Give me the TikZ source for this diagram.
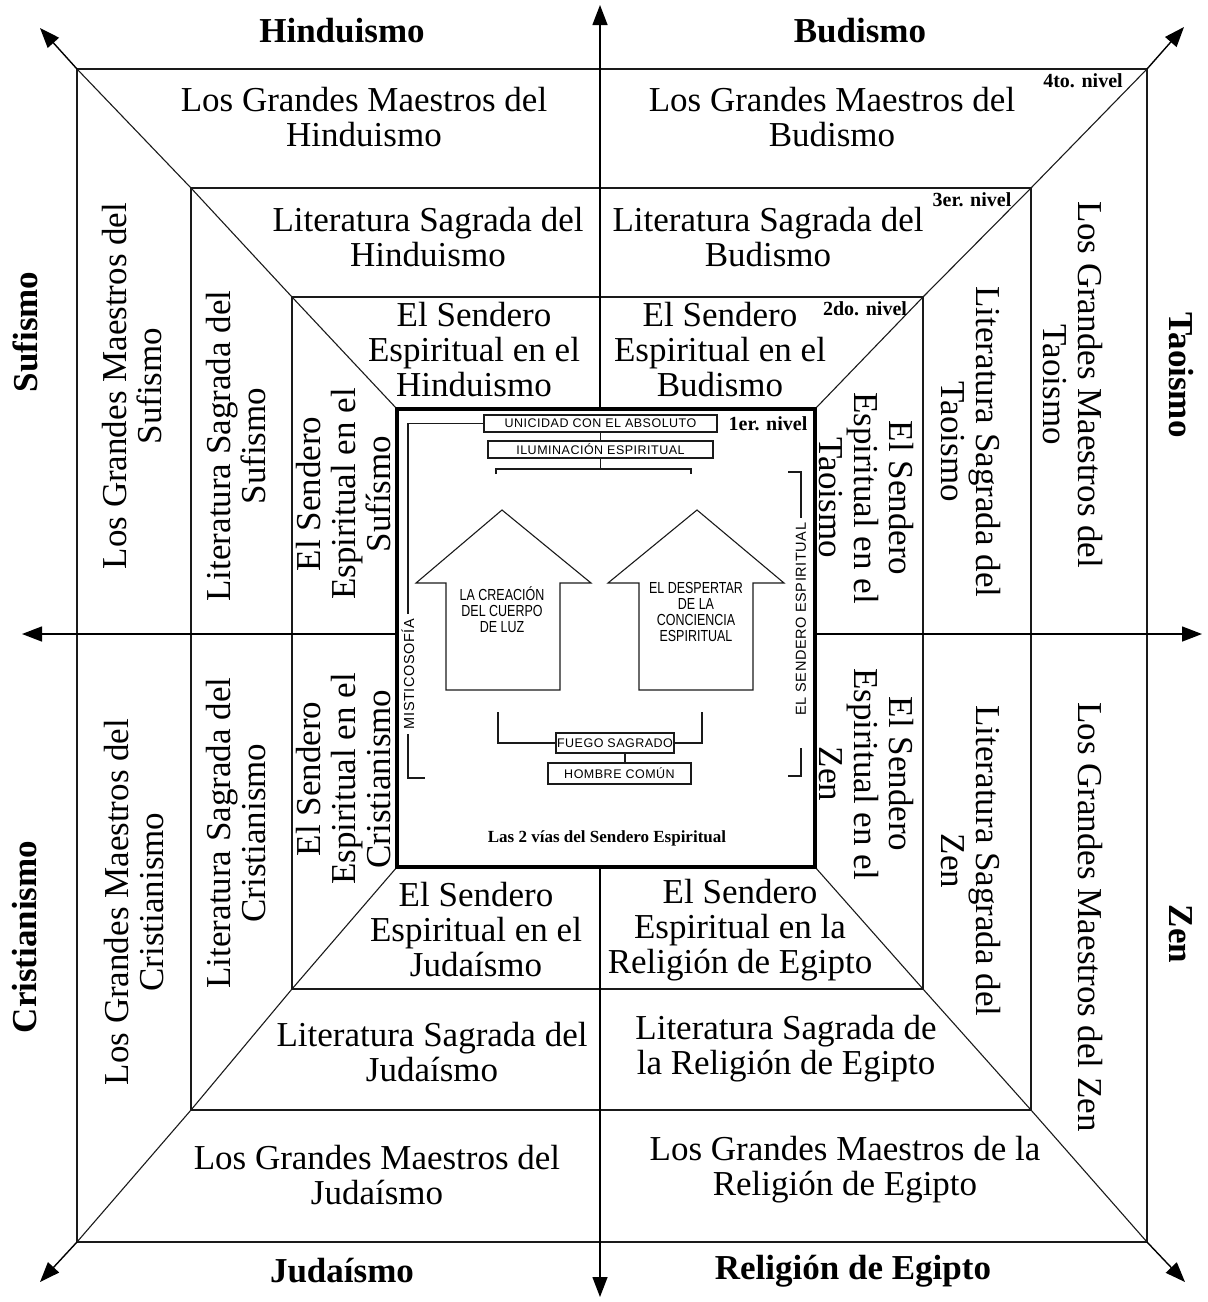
\documentclass[tikz,border=0pt]{standalone}
\usepackage{fontspec}
\setmainfont{Liberation Serif}
\newfontfamily\boxfont[LetterSpace=4]{Liberation Sans}
\newfontfamily\narrowfont[FakeStretch=0.78]{Liberation Sans}
\usetikzlibrary{arrows.meta,calc}
\definecolor{ink}{HTML}{1A1A1A}
\tikzset{
  levelBox/.style={draw=ink, line width=1.2pt, inner sep=0pt, outer sep=0pt},
  coreBox/.style={draw=black, line width=4pt, inner sep=0pt, outer sep=0pt},
  diag/.style={draw=ink, line width=1.1pt},
  axis/.style={draw=black, line width=1.4pt, -{Triangle[length=20pt,width=15pt]}},
  relText/.style={font=\fontsize{35}{35}\selectfont, align=center, inner sep=0pt},
  relUp/.style={relText, rotate=90},
  relDown/.style={relText, rotate=-90},
  faith/.style={font=\fontsize{35}{36}\selectfont\bfseries, inner sep=0pt},
  nivel/.style={font=\fontsize{20}{20}\selectfont\bfseries, inner sep=0pt},
  stageBox/.style={draw=ink, line width=1.1pt, font=\boxfont\fontsize{12.5}{14}\selectfont, inner sep=1pt},
  sideLab/.style={font=\boxfont\fontsize{14.5}{14}\selectfont, rotate=90, inner sep=5pt},
  wayText/.style={font=\narrowfont\fontsize{16}{16}\selectfont, align=center, inner sep=0pt},
  wayArrow/.style={draw=ink, line width=1.1pt, line join=miter},
  link/.style={draw=ink, line width=1.1pt},
  title/.style={font=\fontsize{17}{17}\selectfont\bfseries, inner sep=0pt}
}

\begin{document}
\begin{tikzpicture}[x=1pt,y=-1pt]
  \useasboundingbox (0,0) rectangle (1208,1302);

  \node[levelBox, minimum width=1070pt, minimum height=1173pt] (L4) at (612,655.5) {};
  \node[levelBox, minimum width=840pt, minimum height=922pt] (L3) at (611,649) {};
  \node[levelBox, minimum width=631pt, minimum height=692pt] (L2) at (607.5,643) {};
  \node[coreBox, minimum width=418pt, minimum height=458pt] (L1) at (606,638) {};

  \foreach \c in {north west,north east,south west,south east}
    \draw[diag] (L4.\c) -- (L3.\c) -- (L2.\c) -- (L1.\c);

  \coordinate (aN) at (600,5);
  \coordinate (aS) at (600,1297);
  \coordinate (aW) at (22,634);
  \coordinate (aE) at (1202,634);
  \coordinate (tNW) at (40,28);
  \coordinate (tNE) at (1184,27);
  \coordinate (tSW) at (40,1282);
  \coordinate (tSE) at (1185,1282);

  \draw[axis] (aN |- L1.north) -- (aN);
  \draw[axis] (aS |- L1.south) -- (aS);
  \draw[axis] (L1.west |- aW) -- (aW);
  \draw[axis] (L1.east |- aE) -- (aE);
  \draw[axis] (L4.north west) -- (tNW);
  \draw[axis] (L4.north east) -- (tNE);
  \draw[axis] (L4.south west) -- (tSW);
  \draw[axis] (L4.south east) -- (tSE);
  \node[coreBox, minimum width=418pt, minimum height=458pt] at (L1) {};

  \node[faith] (hin) at (342,31) {Hinduismo};
  \node[faith] (bud) at (860,31) {Budismo};
  \node[faith] (jud) at (342,1271) {Judaísmo};
  \node[faith] (egi) at (853,1271) {Religión de Egipto};
  \node[faith, rotate=90] (suf) at (25,332) {Sufismo};
  \node[faith, rotate=90] (cri) at (25,937) {Cristianismo};
  \node[faith, rotate=-90] (tao) at (1181,375) {Taoismo};
  \node[faith, rotate=-90] (zen) at (1181,934) {Zen};

  \node[nivel] (n4) at (1083,81) {4to. nivel};
  \node[nivel] (n3) at (972,200) {3er. nivel};
  \node[nivel] (n2) at (865,309) {2do. nivel};
  \node[nivel] (n1) at (768,424) {1er. nivel};

  \node[relText] (mHin) at (364,117) {Los Grandes Maestros del\\Hinduismo};
  \node[relText] (mBud) at (832,117) {Los Grandes Maestros del\\Budismo};
  \node[relText] (lHin) at (428,237) {Literatura Sagrada del\\Hinduismo};
  \node[relText] (lBud) at (768,237) {Literatura Sagrada del\\Budismo};
  \node[relText] (sHin) at (474,350) {El Sendero\\Espiritual en el\\Hinduismo};
  \node[relText] (sBud) at (720,350) {El Sendero\\Espiritual en el\\Budismo};
  \node[relText] (sJud) at (476,930) {El Sendero\\Espiritual en el\\Judaísmo};
  \node[relText] (sEgi) at (740,930) {El Sendero\\Espiritual en la\\Religión de Egipto};
  \node[relText] (lJud) at (432,1052) {Literatura Sagrada del\\Judaísmo};
  \node[relText] (lEgi) at (786,1049) {Literatura Sagrada de\\la Religión de Egipto};
  \node[relText] (mJud) at (377,1175) {Los Grandes Maestros del\\Judaísmo};
  \node[relText] (mEgi) at (845,1170) {Los Grandes Maestros de la\\Religión de Egipto};

  \node[relUp] (mSuf) at (132,386) {Los Grandes Maestros del\\Sufismo};
  \node[relUp] (mCri) at (134,902) {Los Grandes Maestros del\\Cristianismo};
  \node[relUp] (lSuf) at (236,446) {Literatura Sagrada del\\Sufismo};
  \node[relUp] (lCri) at (236,833) {Literatura Sagrada del\\Cristianismo};
  \node[relUp] (sSuf) at (344,494) {El Sendero\\Espiritual en el\\Sufísmo};
  \node[relUp] (sCri) at (344,779) {El Sendero\\Espiritual en el\\Cristianismo};

  \node[relDown] (mTao) at (1073,385) {Los Grandes Maestros del\\Taoismo};
  \node[relDown] (mZen) at (1090,917) {Los Grandes Maestros del Zen};
  \node[relDown] (lTao) at (971,442) {Literatura Sagrada del\\Taoismo};
  \node[relDown] (lZen) at (971,861) {Literatura Sagrada del\\Zen};
  \node[relDown] (sTao) at (866,498) {El Sendero\\Espiritual en el\\Taoismo};
  \node[relDown] (sZen) at (866,774) {El Sendero\\Espiritual en el\\Zen};

  \node[stageBox, minimum width=233pt, minimum height=17pt] (uni) at (600.5,423.5) {UNICIDAD CON EL ABSOLUTO};
  \node[stageBox, minimum width=225pt, minimum height=17pt] (ilu) at (600.5,449.5) {ILUMINACIÓN ESPIRITUAL};
  \coordinate (brk) at (600.5,469);
  \coordinate (bL) at (496,474);
  \coordinate (bR) at (691,474);
  \draw[link] (uni) -- (ilu);
  \draw[link] (ilu) -- (brk);
  \draw[link] (bL) |- (brk) -| (bR);

  \draw[wayArrow] (502,510) -- (591,583) -- (560,583) -- (560,690) -- (446,690) -- (446,583) -- (416,583) -- cycle;
  \draw[wayArrow] (697,510) -- (784,583) -- (753,583) -- (753,690) -- (639,690) -- (639,583) -- (608,583) -- cycle;
  \node[wayText] (creacion) at (502,610) {LA CREACIÓN\\DEL CUERPO\\DE LUZ};
  \node[wayText] (despertar) at (696,612) {EL DESPERTAR\\DE LA\\CONCIENCIA\\ESPIRITUAL};

  \node[stageBox, minimum width=114pt, minimum height=20pt] (fuego) at (615,743) {FUEGO SAGRADO};
  \node[stageBox, minimum width=143pt, minimum height=21pt] (hombre) at (619.5,773.5) {HOMBRE COMÚN};
  \coordinate (fL) at (498,712);
  \coordinate (fR) at (702,712);
  \draw[link] (fL) |- (fuego.west);
  \draw[link] (fuego.east) -| (fR);
  \draw[link] ($(fuego.south)+(10,0)$) -- ($(hombre.north)+(5.5,0)$);

  \node[sideLab] (mist) at (408,674) {MISTICOSOFÍA};
  \coordinate (mEnd) at (425,778);
  \draw[link] (uni.west) -| (mist.east);
  \draw[link] (mist.west) |- (mEnd);

  \node[sideLab] (send) at (801,619) {EL SENDERO ESPIRITUAL};
  \coordinate (sTop) at (788,472);
  \coordinate (sLow) at (801,748);
  \coordinate (sEnd) at (788,776);
  \draw[link] (sTop) -| (send.east);
  \draw[link] (sLow) |- (sEnd);

  \node[title] (vias) at (607,838) {Las 2 vías del Sendero Espiritual};
\end{tikzpicture}
\end{document}
